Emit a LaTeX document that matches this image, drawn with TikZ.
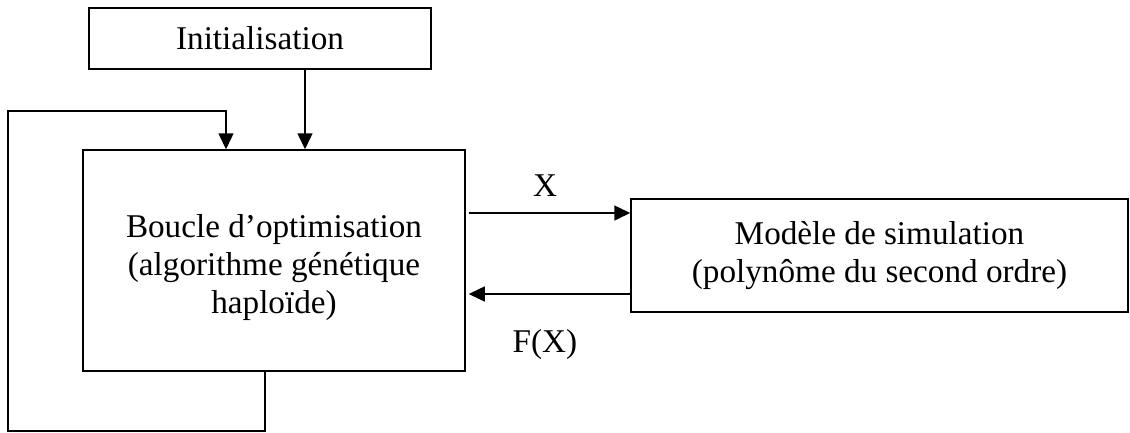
\documentclass[tikz,border=0pt]{standalone}
\usepackage{fontspec}
\setmainfont{Liberation Serif}
\usetikzlibrary{arrows.meta}
\begin{document}
\begin{tikzpicture}[x=1pt,y=-1pt,
  box/.style={draw,line width=1.5pt,inner sep=0pt,align=center,
    font=\fontsize{33.2}{38}\selectfont},
  arr/.style={line width=1.5pt,-{Triangle[length=16pt,width=15pt]}},
  lbl/.style={font=\fontsize{33.2}{38}\selectfont,inner sep=0pt,align=center}]
\useasboundingbox (0,0) rectangle (1130,432);
\node[box,minimum width=342pt,minimum height=61pt] (init) at (260,38.5) {Initialisation};
\node[box,minimum width=382pt,minimum height=221pt] (main) at (274,260.5) {};
\node[lbl] (mainlbl) at (274,268) {Boucle d’optimisation\\(algorithme génétique\\haploïde)};
\node[box,minimum width=497pt,minimum height=113pt] (model) at (879.5,255.5)
  {Modèle de simulation\\(polynôme du second ordre)};
\coordinate (c1) at (305,0);
\coordinate (la) at (265,431);
\coordinate (lb) at (8,111);
\coordinate (lc) at (226,0);
\coordinate (xy) at (0,213);
\coordinate (fy) at (0,294);
\draw[arr] (init.south -| c1) -- (main.north -| c1);
\draw[arr] (main.south -| la) -- (la) -| (lb) -| (main.north -| lc);
\draw[arr] ([xshift=3pt]main.east |- xy) -- (model.west |- xy);
\draw[arr] (model.west |- fy) -- ([xshift=3pt]main.east |- fy);
\node[lbl] (xl) at (545,186) {X};
\node[lbl] (fl) at (545,345) {F(X)};
\end{tikzpicture}
\end{document}
